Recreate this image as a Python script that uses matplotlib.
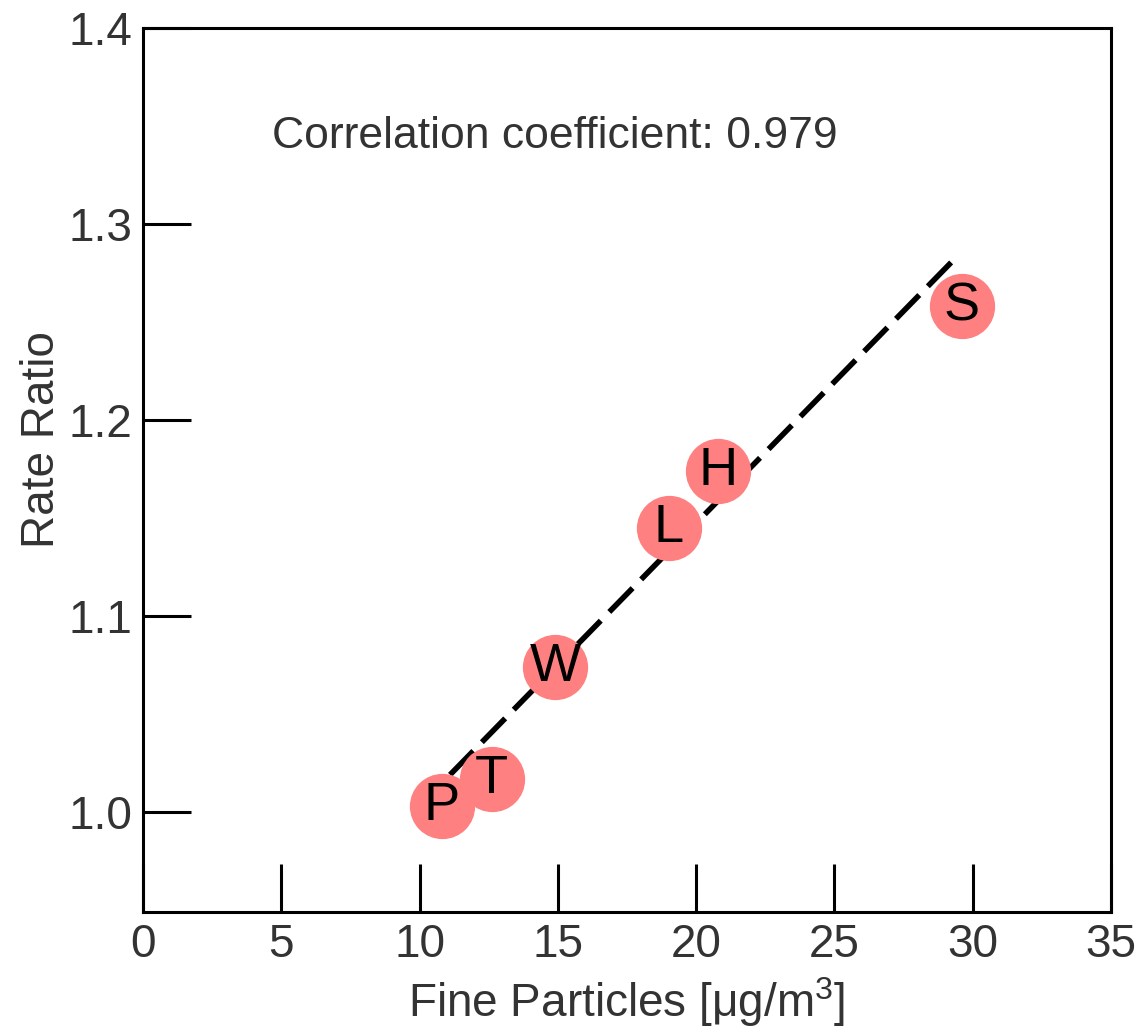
import matplotlib.pyplot as plt

plt.rcParams['font.family'] = ['Liberation Sans', 'DejaVu Sans']
plt.rcParams['mathtext.fontset'] = 'custom'
plt.rcParams['mathtext.rm'] = 'Liberation Sans'
plt.rcParams['mathtext.default'] = 'regular'

# Six cities: fine particle level vs. adjusted mortality rate ratio
cities = ['P', 'T', 'W', 'L', 'H', 'S']
fine_particles = [10.8, 12.6, 14.9, 19.0, 20.8, 29.6]
rate_ratio = [1.003, 1.017, 1.074, 1.145, 1.174, 1.258]

# end points of the fitted line
fit_x = [11.1, 29.4]
fit_y = [1.019, 1.283]

corr_text = 'Correlation coefficient: 0.979'

x_ticks = [0, 5, 10, 15, 20, 25, 30, 35]
y_ticks = [1.0, 1.1, 1.2, 1.3, 1.4]
y_tick_labels = ['1.0', '1.1', '1.2', '1.3', '1.4']

text_color = '#333333'

fig = plt.figure(figsize=(11.46, 10.36), dpi=100)
ax = fig.add_axes([0.1248, 0.1197, 0.8447, 0.8533])

ax.plot(fit_x, fit_y, color='black', linewidth=4.0,
        linestyle=(0, (6.0, 2.2)), dash_capstyle='butt', zorder=2)
ax.plot(fine_particles, rate_ratio, 'o', markersize=47,
        markerfacecolor='#ff8080', markeredgewidth=0, zorder=3)
for name, x, y in zip(cities, fine_particles, rate_ratio):
    ax.text(x, y, name, fontsize=39, ha='center', va='center',
            color='black', zorder=4)

ax.text(0.133, 0.864, corr_text, transform=ax.transAxes,
        fontsize=32, color=text_color, va='baseline', ha='left')

ax.set_xlim(0, 35)
ax.set_ylim(0.949, 1.4)
ax.set_xticks(x_ticks)
ax.set_yticks(y_ticks)
ax.set_yticklabels(y_tick_labels)
ax.tick_params(direction='in', length=34.5, width=2.2, pad=8,
               labelsize=33, labelcolor=text_color, color='black')

for spine in ax.spines.values():
    spine.set_linewidth(2.2)

ax.set_xlabel('Fine Particles [μg/m$^{3}$]', fontsize=33, color=text_color,
              labelpad=6)
ax.set_ylabel('Rate Ratio', fontsize=33, color=text_color)
ax.yaxis.set_label_coords(-0.082, 0.534)

fig.savefig('out.png', dpi=100)
